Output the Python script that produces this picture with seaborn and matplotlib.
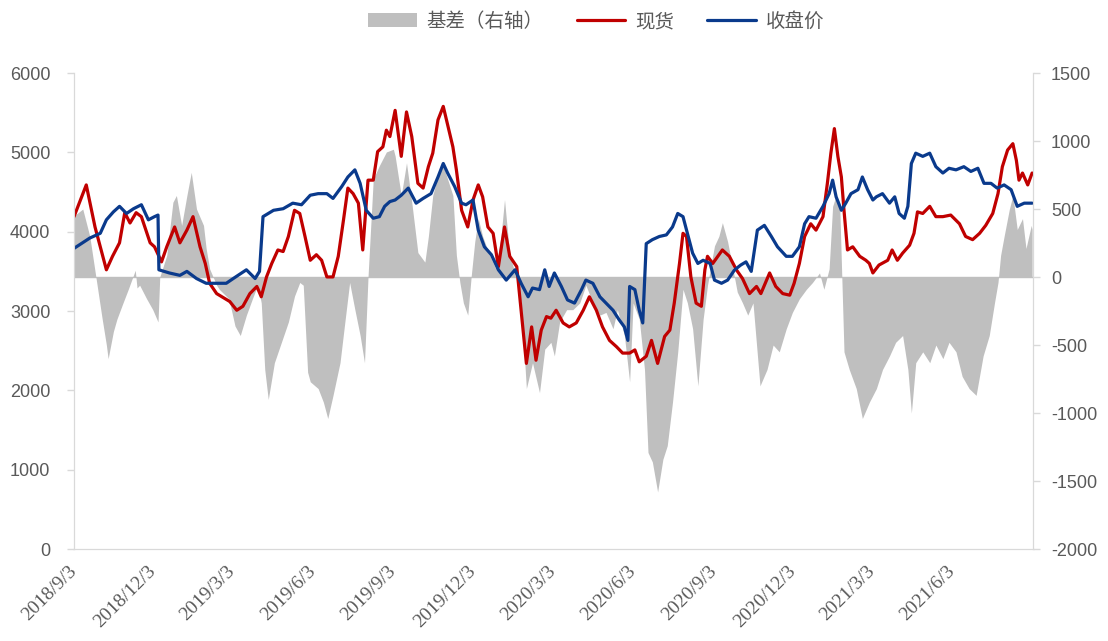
import pandas as pd
import numpy as np
import matplotlib
matplotlib.use('Agg')
import matplotlib.pyplot as plt
from matplotlib.patches import Patch
from matplotlib.lines import Line2D
import seaborn as sns

#%% data
spot_dates = [
    '2018-09-03', '2018-09-17', '2018-09-27', '2018-10-10', '2018-10-17', '2018-10-25', '2018-10-31',
    '2018-11-06', '2018-11-13', '2018-11-19', '2018-11-29', '2018-12-04', '2018-12-12', '2018-12-18',
    '2018-12-27', '2019-01-02', '2019-01-10', '2019-01-17', '2019-01-25', '2019-01-31', '2019-02-05',
    '2019-02-13', '2019-02-28', '2019-03-08', '2019-03-15', '2019-03-23', '2019-03-31', '2019-04-05',
    '2019-04-11', '2019-04-17', '2019-04-24', '2019-04-30', '2019-05-06', '2019-05-13', '2019-05-19',
    '2019-05-25', '2019-05-31', '2019-06-07', '2019-06-13', '2019-06-19', '2019-06-26', '2019-07-02',
    '2019-07-08', '2019-07-13', '2019-07-19', '2019-07-25', '2019-07-30', '2019-08-05', '2019-08-11',
    '2019-08-16', '2019-08-22', '2019-08-26', '2019-08-30', '2019-09-05', '2019-09-12', '2019-09-18',
    '2019-09-24', '2019-10-01', '2019-10-07', '2019-10-13', '2019-10-18', '2019-10-24', '2019-10-30',
    '2019-11-04', '2019-11-10', '2019-11-14', '2019-11-20', '2019-11-27', '2019-12-03', '2019-12-09',
    '2019-12-14', '2019-12-20', '2019-12-26', '2020-01-01', '2020-01-08', '2020-01-14', '2020-01-22',
    '2020-01-27', '2020-02-02', '2020-02-08', '2020-02-13', '2020-02-19', '2020-02-25', '2020-03-01',
    '2020-03-07', '2020-03-15', '2020-03-22', '2020-03-30', '2020-04-07', '2020-04-14', '2020-04-22',
    '2020-04-29', '2020-05-07', '2020-05-15', '2020-05-22', '2020-05-30', '2020-06-05', '2020-06-10',
    '2020-06-18', '2020-06-24', '2020-07-01', '2020-07-09', '2020-07-15', '2020-07-20', '2020-07-26',
    '2020-07-30', '2020-08-03', '2020-08-08', '2020-08-14', '2020-08-20', '2020-08-24', '2020-08-27',
    '2020-09-02', '2020-09-13', '2020-09-21', '2020-09-29', '2020-10-06', '2020-10-14', '2020-10-22',
    '2020-10-27', '2020-11-06', '2020-11-13', '2020-11-21', '2020-11-29', '2020-12-04', '2020-12-10',
    '2020-12-16', '2020-12-23', '2020-12-29', '2021-01-06', '2021-01-11', '2021-01-15', '2021-01-19',
    '2021-01-23', '2021-01-27', '2021-01-30', '2021-02-03', '2021-02-09', '2021-02-17', '2021-02-24',
    '2021-02-28', '2021-03-04', '2021-03-11', '2021-03-21', '2021-03-26', '2021-04-01', '2021-04-07',
    '2021-04-15', '2021-04-20', '2021-04-24', '2021-04-30', '2021-05-08', '2021-05-15', '2021-05-23',
    '2021-06-01', '2021-06-11', '2021-06-18', '2021-06-26', '2021-07-04', '2021-07-11', '2021-07-19',
    '2021-07-25', '2021-07-30', '2021-08-05', '2021-08-11', '2021-08-15', '2021-08-18', '2021-08-22',
    '2021-08-28', '2021-09-02',
]
spot = [
    4190, 4590, 4060, 3520, 3690, 3860, 4240,
    4110, 4240, 4190, 3860, 3810, 3620, 3810,
    4060, 3860, 4020, 4190, 3810, 3600, 3350,
    3220, 3120, 3010, 3060, 3220, 3310, 3180,
    3430, 3600, 3770, 3750, 3940, 4270, 4230,
    3940, 3640, 3710, 3640, 3430, 3430, 3690,
    4150, 4550, 4480, 4360, 3770, 4650, 4650,
    5010, 5070, 5280, 5200, 5530, 4950, 5510,
    5200, 4610, 4550, 4820, 4990, 5410, 5580,
    5350, 5070, 4780, 4270, 4060, 4400, 4590,
    4440, 4060, 3980, 3560, 4060, 3690, 3560,
    3010, 2340, 2800, 2380, 2760, 2930, 2910,
    3010, 2850, 2800, 2850, 3010, 3180, 3010,
    2800, 2630, 2550, 2470, 2470, 2510, 2360,
    2430, 2630, 2340, 2680, 2760, 3100, 3600,
    3980, 3940, 3430, 3100, 3060, 3520, 3690,
    3600, 3770, 3690, 3520, 3410, 3220, 3310,
    3220, 3480, 3310, 3220, 3200, 3350, 3600,
    3940, 4100, 4020, 4190, 4610, 4990, 5300,
    4950, 4690, 4270, 3770, 3810, 3690, 3640,
    3600, 3480, 3580, 3640, 3770, 3640, 3730,
    3830, 3980, 4250, 4230, 4320, 4190, 4190,
    4210, 4100, 3940, 3900, 3980, 4080, 4230,
    4480, 4820, 5030, 5110, 4900, 4650, 4740,
    4590, 4740,
]

close_dates = [
    '2018-09-03', '2018-09-14', '2018-09-21', '2018-10-03', '2018-10-10', '2018-10-18', '2018-10-25',
    '2018-11-02', '2018-11-10', '2018-11-19', '2018-11-27', '2018-12-04', '2018-12-08', '2018-12-09',
    '2018-12-21', '2019-01-02', '2019-01-10', '2019-01-21', '2019-02-01', '2019-02-13', '2019-02-24',
    '2019-03-04', '2019-03-19', '2019-03-29', '2019-04-03', '2019-04-07', '2019-04-19', '2019-04-30',
    '2019-05-11', '2019-05-21', '2019-05-31', '2019-06-09', '2019-06-19', '2019-06-26', '2019-07-06',
    '2019-07-13', '2019-07-21', '2019-07-27', '2019-08-03', '2019-08-11', '2019-08-18', '2019-08-24',
    '2019-08-30', '2019-09-05', '2019-09-12', '2019-09-20', '2019-09-29', '2019-10-07', '2019-10-16',
    '2019-10-24', '2019-10-30', '2019-11-04', '2019-11-12', '2019-11-20', '2019-11-25', '2019-12-03',
    '2019-12-09', '2019-12-16', '2019-12-24', '2020-01-01', '2020-01-10', '2020-01-20', '2020-01-27',
    '2020-02-04', '2020-02-09', '2020-02-17', '2020-02-23', '2020-02-28', '2020-03-05', '2020-03-13',
    '2020-03-20', '2020-03-28', '2020-04-05', '2020-04-10', '2020-04-18', '2020-04-26', '2020-05-03',
    '2020-05-11', '2020-05-18', '2020-05-24', '2020-05-28', '2020-05-30', '2020-06-05', '2020-06-10',
    '2020-06-14', '2020-06-18', '2020-06-25', '2020-07-03', '2020-07-11', '2020-07-18', '2020-07-24',
    '2020-07-30', '2020-08-04', '2020-08-10', '2020-08-16', '2020-08-22', '2020-08-30', '2020-09-04',
    '2020-09-12', '2020-09-19', '2020-09-27', '2020-10-04', '2020-10-10', '2020-10-16', '2020-10-23',
    '2020-10-31', '2020-11-08', '2020-11-15', '2020-11-25', '2020-12-02', '2020-12-10', '2020-12-16',
    '2020-12-21', '2020-12-29', '2021-01-06', '2021-01-13', '2021-01-17', '2021-01-21', '2021-01-27',
    '2021-02-01', '2021-02-07', '2021-02-15', '2021-02-20', '2021-02-26', '2021-03-04', '2021-03-08',
    '2021-03-15', '2021-03-23', '2021-03-29', '2021-04-03', '2021-04-09', '2021-04-13', '2021-04-17',
    '2021-04-22', '2021-04-30', '2021-05-08', '2021-05-15', '2021-05-23', '2021-05-30', '2021-06-07',
    '2021-06-16', '2021-06-24', '2021-07-02', '2021-07-09', '2021-07-17', '2021-07-24', '2021-08-01',
    '2021-08-09', '2021-08-16', '2021-08-24', '2021-09-02',
]
close = [
    3790, 3870, 3920, 3980, 4150, 4250, 4320,
    4230, 4290, 4340, 4150, 4190, 4210, 3520,
    3480, 3450, 3500, 3410, 3350, 3350, 3350,
    3410, 3520, 3410, 3500, 4190, 4270, 4290,
    4360, 4340, 4460, 4480, 4480, 4420, 4570,
    4690, 4780, 4610, 4270, 4170, 4190, 4320,
    4380, 4400, 4460, 4550, 4360, 4420, 4480,
    4690, 4860, 4740, 4570, 4360, 4340, 4400,
    4020, 3810, 3710, 3520, 3390, 3520, 3350,
    3180, 3290, 3270, 3520, 3310, 3480, 3310,
    3140, 3100, 3270, 3390, 3350, 3180, 3100,
    3010, 2890, 2800, 2630, 3310, 3270, 3010,
    2850, 3850, 3900, 3940, 3960, 4060, 4230,
    4190, 3980, 3730, 3600, 3640, 3600, 3390,
    3350, 3390, 3520, 3580, 3620, 3500, 4020,
    4080, 3940, 3810, 3690, 3690, 3810, 4100,
    4190, 4170, 4320, 4480, 4650, 4440, 4270,
    4360, 4480, 4530, 4690, 4530, 4400, 4440,
    4480, 4360, 4440, 4230, 4170, 4320, 4860,
    4990, 4950, 4990, 4820, 4740, 4800, 4780,
    4820, 4760, 4800, 4610, 4610, 4550, 4590,
    4530, 4320, 4360, 4360,
]

basis_dates = [
    '2018-09-03', '2018-09-13', '2018-09-21', '2018-09-28', '2018-10-05', '2018-10-10', '2018-10-12',
    '2018-10-18', '2018-10-22', '2018-10-29', '2018-11-04', '2018-11-12', '2018-11-14', '2018-11-17',
    '2018-11-25', '2018-12-02', '2018-12-08', '2018-12-10', '2018-12-18', '2018-12-25', '2018-12-29',
    '2019-01-04', '2019-01-10', '2019-01-15', '2019-01-21', '2019-01-29', '2019-02-01', '2019-02-05',
    '2019-02-13', '2019-02-16', '2019-02-27', '2019-03-06', '2019-03-12', '2019-03-19', '2019-03-27',
    '2019-04-01', '2019-04-05', '2019-04-09', '2019-04-13', '2019-04-20', '2019-04-28', '2019-05-06',
    '2019-05-13', '2019-05-19', '2019-05-23', '2019-05-28', '2019-05-31', '2019-06-09', '2019-06-15',
    '2019-06-20', '2019-06-26', '2019-07-04', '2019-07-09', '2019-07-15', '2019-07-21', '2019-07-27',
    '2019-08-01', '2019-08-05', '2019-08-11', '2019-08-18', '2019-08-26', '2019-09-03', '2019-09-05',
    '2019-09-12', '2019-09-18', '2019-09-24', '2019-10-01', '2019-10-09', '2019-10-13', '2019-10-18',
    '2019-10-24', '2019-10-30', '2019-11-04', '2019-11-10', '2019-11-14', '2019-11-18', '2019-11-22',
    '2019-11-27', '2019-12-01', '2019-12-05', '2019-12-09', '2019-12-14', '2019-12-22', '2019-12-29',
    '2020-01-04', '2020-01-08', '2020-01-14', '2020-01-21', '2020-01-27', '2020-02-02', '2020-02-09',
    '2020-02-17', '2020-02-23', '2020-03-01', '2020-03-05', '2020-03-11', '2020-03-19', '2020-03-26',
    '2020-04-03', '2020-04-10', '2020-04-18', '2020-04-26', '2020-05-03', '2020-05-11', '2020-05-16',
    '2020-05-24', '2020-05-30', '2020-06-03', '2020-06-10', '2020-06-16', '2020-06-20', '2020-06-25',
    '2020-07-01', '2020-07-07', '2020-07-12', '2020-07-18', '2020-07-24', '2020-07-30', '2020-08-04',
    '2020-08-10', '2020-08-16', '2020-08-22', '2020-08-27', '2020-09-02', '2020-09-04', '2020-09-09',
    '2020-09-13', '2020-09-19', '2020-09-25', '2020-09-30', '2020-10-06', '2020-10-12', '2020-10-18',
    '2020-10-26', '2020-11-03', '2020-11-10', '2020-11-17', '2020-11-25', '2020-12-02', '2020-12-10',
    '2020-12-18', '2020-12-25', '2021-01-02', '2021-01-07', '2021-01-13', '2021-01-17', '2021-01-21',
    '2021-01-25', '2021-01-30', '2021-02-05', '2021-02-13', '2021-02-20', '2021-02-28', '2021-03-08',
    '2021-03-15', '2021-03-23', '2021-03-30', '2021-04-07', '2021-04-13', '2021-04-17', '2021-04-22',
    '2021-04-30', '2021-05-08', '2021-05-15', '2021-05-23', '2021-05-30', '2021-06-07', '2021-06-14',
    '2021-06-22', '2021-06-30', '2021-07-08', '2021-07-15', '2021-07-21', '2021-07-25', '2021-07-28',
    '2021-08-01', '2021-08-07', '2021-08-11', '2021-08-16', '2021-08-22', '2021-08-26', '2021-09-01',
    '2021-09-02',
]
basis = [
    450, 500, 300, 0, -300, -500, -600,
    -400, -310, -190, -90, 50, -80, -60,
    -160, -240, -330, 0, 160, 550, 600,
    380, 600, 770, 500, 380, 210, 60,
    -60, -90, -160, -360, -430, -280, -140,
    -60, -190, -680, -900, -630, -480, -330,
    -140, -40, -60, -700, -770, -820, -920,
    -1040, -870, -630, -360, -40, -240, -430,
    -630, 0, 720, 820, 920, 940, 890,
    600, 840, 550, 180, 110, 300, 600,
    750, 820, 720, 600, 160, -40, -190,
    -280, 10, 260, 430, 300, 160, 60,
    300, 570, 160, 10, -190, -820, -630,
    -850, -530, -480, -580, -330, -240, -240,
    -190, -60, -190, -280, -260, -380, -240,
    -430, -770, -190, -310, -680, -1290, -1360,
    -1580, -1340, -1240, -920, -550, -90, -190,
    -380, -800, -310, -60, 160, 230, 300,
    400, 260, 60, -110, -190, -280, -190,
    -800, -680, -500, -550, -380, -260, -160,
    -90, -40, 30, -90, 60, 520, 600,
    550, -550, -680, -820, -1040, -920, -820,
    -680, -580, -480, -430, -680, -1000, -630,
    -550, -630, -500, -600, -480, -550, -730,
    -820, -870, -580, -430, -190, -40, 160,
    300, 500, 600, 350, 430, 210, 380,
    350,
]

tick_dates = ['2018-09-03', '2018-12-03', '2019-03-03', '2019-06-03', '2019-09-03', '2019-12-03',
              '2020-03-03', '2020-06-03', '2020-09-03', '2020-12-03', '2021-03-03', '2021-06-03']
tick_labels = ['2018/9/3', '2018/12/3', '2019/3/3', '2019/6/3', '2019/9/3', '2019/12/3',
               '2020/3/3', '2020/6/3', '2020/9/3', '2020/12/3', '2021/3/3', '2021/6/3']

#%% plot
sns.set_style('white')
plt.rcParams['font.family'] = ['Noto Sans CJK SC', 'DejaVu Sans']
plt.rcParams['axes.unicode_minus'] = False

grey = '#595959'
axis_col = '#D9D9D9'

fig = plt.figure(figsize=(11.08, 6.41), dpi=100)
ax = fig.add_axes([0.0668, 0.1435, 0.8655, 0.7425])
ax2 = ax.twinx()

# basis area on the right axis, lines above it
ax2.fill_between(pd.to_datetime(basis_dates), 0, basis, color='#BFBFBF', linewidth=0)
ax2.axhline(0, color='#BFBFBF', linewidth=1)
ax.set_zorder(ax2.get_zorder() + 1)
ax.patch.set_visible(False)

sns.lineplot(x=pd.to_datetime(spot_dates), y=spot, ax=ax, color='#C00000', linewidth=2.3)
sns.lineplot(x=pd.to_datetime(close_dates), y=close, ax=ax, color='#0A3A8C', linewidth=2.3)

ax.set_ylim(0, 6000)
ax2.set_ylim(-2000, 1500)
ax.set_yticks(range(0, 6001, 1000))
ax2.set_yticks(range(-2000, 1501, 500))
ax.set_xlim(pd.Timestamp('2018-09-03'), pd.Timestamp('2021-09-03'))
ax.set_xticks(pd.to_datetime(tick_dates))
ax.set_xticklabels(tick_labels, rotation=45, ha='right', va='center', rotation_mode='anchor')

for a in (ax, ax2):
    for s in a.spines.values():
        s.set_color(axis_col)
    a.spines['top'].set_visible(False)
    a.tick_params(colors=grey, labelsize=13, length=5, width=1)
    a.tick_params(axis='both', color=axis_col)
    for lab in a.get_yticklabels():
        lab.set_family(['Liberation Sans', 'DejaVu Sans'])
ax.tick_params(axis='y', pad=12)
ax2.tick_params(axis='y', pad=8)
ax.tick_params(axis='x', pad=9, labelsize=14)
for lab in ax.get_xticklabels():
    lab.set_family(['Liberation Serif', 'DejaVu Serif'])
ax.set_xlabel('')
ax.set_ylabel('')
ax2.set_ylabel('')

handles = [
    Patch(facecolor='#BFBFBF', edgecolor='none'),
    Line2D([], [], color='#C00000', linewidth=2.3),
    Line2D([], [], color='#0A3A8C', linewidth=2.3),
]
fig.legend(handles, ['基差（右轴）', '现货', '收盘价'], loc='upper center',
           bbox_to_anchor=(0.538, 1.01), ncol=3, frameon=False, fontsize=14,
           handlelength=2.5, handleheight=0.7, handletextpad=0.5, columnspacing=1.7,
           labelcolor=grey)

fig.savefig('out.png', dpi=100)
